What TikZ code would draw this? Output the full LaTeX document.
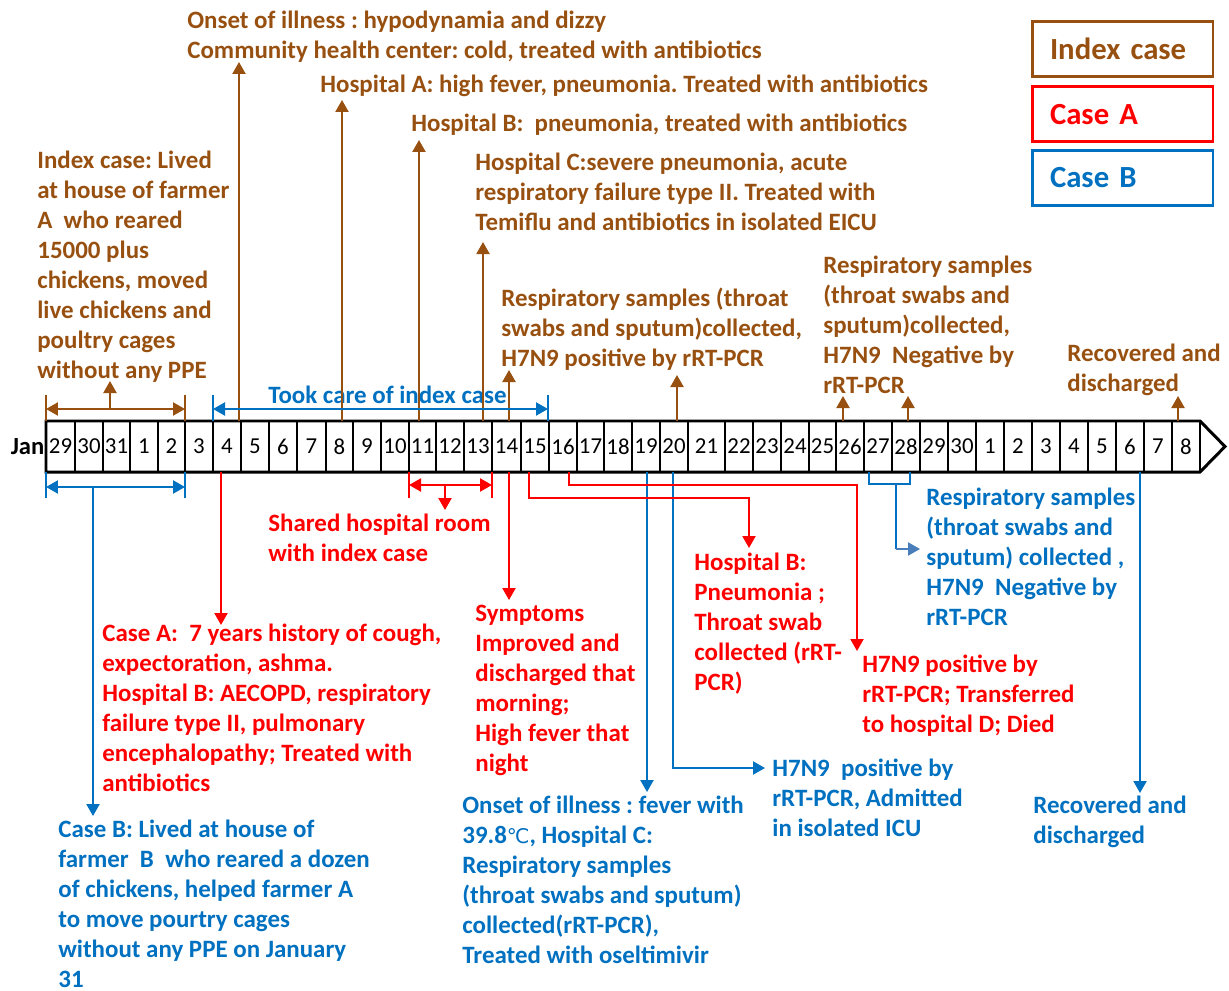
\documentclass[tikz,border=0pt]{standalone}
\usepackage{fontspec}
\setmainfont{Carlito}
\newfontfamily\djv{DejaVu Sans}
\usetikzlibrary{arrows.meta}
\frenchspacing
\definecolor{brn}{RGB}{152,80,16}
\definecolor{rd}{RGB}{255,0,0}
\definecolor{bl}{RGB}{0,112,192}
\definecolor{bltwo}{RGB}{74,126,187}
\tikzset{
  txt/.style={anchor=north west, inner sep=0pt, align=left, font=\fontsize{14.2}{17.07}\selectfont\bfseries},
  con/.style={line width=1.2pt},
  arr/.style={con, -{Triangle[length=0.24cm,width=0.26cm]}},
  darr/.style={con, {Triangle[length=0.24cm,width=0.26cm]}-{Triangle[length=0.24cm,width=0.26cm]}},
  day/.style={font=\fontsize{13}{15}\selectfont, inner sep=0pt},
  legend/.style={draw, line width=1.7pt, minimum width=3.62cm, minimum height=1.1cm, inner xsep=0.36cm, text width=2.9cm, align=left, font=\fontsize{17.5}{20}\selectfont\bfseries},
}
\begin{document}
\begin{tikzpicture}[x=0.02cm, y=-0.02cm]
\useasboundingbox (0,0) rectangle (1229,990);

% ---------- timeline strip ----------
\draw[line width=1.7pt] (46,421) -- (1200,421) -- (1225,446.5) -- (1200,472) -- (46,472) -- cycle;
\foreach \l/\r/\t [count=\i] in {46/75/29, 75/103/30, 103/130/31, 130/158/1, 158/185/2, 185/213/3, 213/241/4, 241/269/5, 269/297/6, 297/326/7, 326/353/8, 353/381/9, 381/409/10, 409/436/11, 436/464/12, 464/492/13, 492/521/14, 521/549/15, 549/577/16, 577/604/17, 604/632/18, 632/660/19, 660/688/20, 688/725/21, 725/753/22, 753/781/23, 781/809/24, 809/836/25, 836/864/26, 864/892/27, 892/920/28, 920/948/29, 948/976/30, 976/1004/1, 1004/1032/2, 1032/1060/3, 1060/1088/4, 1088/1116/5, 1116/1144/6, 1144/1172/7, 1172/1200/8}{
  \draw[line width=1.3pt] (\r,421) -- (\r,472);
  \node[day] (d\i) at ({(\l+\r)/2},446.5) {\t};
}
\node[anchor=east, inner sep=0.5pt, font=\fontsize{14}{15}\selectfont\bfseries] (jan) at (45.5,447) {Jan};

% ---------- legend ----------
\node[legend, brn] (lg1) at (1122.5,49.2) {Index case};
\node[legend, rd] (lg2) at (1122.5,114.2) {Case A};
\node[legend, bl] (lg3) at (1122.5,178) {Case B};

% ---------- index case texts (brown) ----------
\node[txt,brn] (onset) at (187,7) {\strut Onset of illness : hypodynamia and dizzy\\Community health center: cold, treated with antibiotics};
\node[txt,brn] (hospA) at (320,71) {\strut Hospital A: high fever, pneumonia. Treated with antibiotics};
\node[txt,brn] (hospB) at (411,110) {\strut Hospital B:\ \ pneumonia, treated with antibiotics};
\node[txt,brn] (hospC) at (475,149) {\strut Hospital C:severe pneumonia, acute\\respiratory failure type II. Treated with\\Temiflu and antibiotics in isolated EICU};
\node[txt,brn] (idx) at (37,147.5) {\strut Index case: Lived\\at house of farmer\\A\ \ who reared\\15000 plus\\chickens, moved\\live chickens and\\poultry cages\\without any PPE};
\node[txt,brn] (respone) at (501,285) {\strut Respiratory samples (throat\\swabs and sputum)collected,\\H7N9 positive by rRT-PCR};
\node[txt,brn] (resptwo) at (823,252) {\strut Respiratory samples\\(throat swabs and\\sputum)collected,\\H7N9\ \ Negative by\\rRT-PCR};
\node[txt,brn] (recovI) at (1067,340) {\strut Recovered and\\discharged};

% ---------- case A texts (red) ----------
\node[txt,rd] (shared) at (268,510) {\strut Shared hospital room\\with index case};
\node[txt,rd] (caseA) at (102,620) {\strut Case A:\ \ 7 years history of cough,\\expectoration, ashma.\\Hospital B: AECOPD, respiratory\\failure type II, pulmonary\\encephalopathy; Treated with\\antibiotics};
\node[txt,rd] (sympt) at (475,600) {\strut Symptoms\\Improved and\\discharged that\\morning;\\High fever that\\night};
\node[txt,rd] (hospBA) at (694,549) {\strut Hospital B:\\Pneumonia ;\\Throat swab\\collected (rRT-\\PCR)};
\node[txt,rd] (died) at (862,651) {\strut H7N9 positive by\\rRT-PCR; Transferred\\to hospital D; Died};

% ---------- case B texts (blue) ----------
\node[txt,bl] (took) at (268,382) {\strut Took care of index case};
\node[txt,bl] (caseB) at (58,816) {\strut Case B: Lived at house of\\farmer\ \ B\ \ who reared a dozen\\of chickens, helped farmer A\\to move pourtry cages\\without any PPE on January\\31};
\node[txt,bl] (onsetB) at (462,792) {\strut Onset of illness : fever with\\39.8{\djv\mdseries\fontsize{11.5}{14}\selectfont ℃}, Hospital C:\\Respiratory samples\\(throat swabs and sputum)\\collected(rRT-PCR),\\Treated with oseltimivir};
\node[txt,bl] (posB) at (772,755) {\strut H7N9\ \ positive by\\rRT-PCR, Admitted\\in isolated ICU};
\node[txt,bl] (respB) at (926,484) {\strut Respiratory samples\\(throat swabs and\\sputum) collected ,\\H7N9\ \ Negative by\\rRT-PCR};
\node[txt,bl] (recovB) at (1033,792) {\strut Recovered and\\discharged};

% ---------- coordinates ----------
% brown
\coordinate (iL) at (46,409); \coordinate (iR) at (185,409);
\coordinate (iLt) at (46,395); \coordinate (iLb) at (46,421);
\coordinate (iRt) at (185,395); \coordinate (iRb) at (185,421);
\coordinate (iM) at (110,409); \coordinate (iMe) at (110,381);
\coordinate (b4s) at (239,421); \coordinate (b4e) at (239,62);
\coordinate (b8s) at (342,421); \coordinate (b8e) at (342,100);
\coordinate (b11s) at (419,421); \coordinate (b11e) at (419,140);
\coordinate (b13s) at (483,421); \coordinate (b13e) at (483,242);
\coordinate (b14s) at (509,421); \coordinate (b14e) at (509,370);
\coordinate (b20s) at (677,421); \coordinate (b20e) at (677,375);
\coordinate (b26s) at (843,421); \coordinate (b26e) at (843,396);
\coordinate (b28s) at (908,421); \coordinate (b28e) at (908,396);
\coordinate (b8fs) at (1178,421); \coordinate (b8fe) at (1178,396);
% blue
\coordinate (tL) at (213,409); \coordinate (tR) at (548,409);
\coordinate (tLt) at (213,395); \coordinate (tLb) at (213,421);
\coordinate (tRt) at (548,395); \coordinate (tRb) at (548,421);
\coordinate (cL) at (46,487); \coordinate (cR) at (185,487);
\coordinate (cLt) at (46,472); \coordinate (cLb) at (46,498);
\coordinate (cRt) at (185,472); \coordinate (cRb) at (185,498);
\coordinate (cM) at (93,487); \coordinate (cMe) at (93,816);
\coordinate (o19s) at (647,472); \coordinate (o19e) at (647,792);
\coordinate (o20s) at (673,472); \coordinate (o20c) at (673,768); \coordinate (o20e) at (765,768);
\coordinate (k27) at (869,472); \coordinate (k27b) at (869,484);
\coordinate (k28) at (910,472); \coordinate (k28b) at (910,484);
\coordinate (kM) at (896,484); \coordinate (kMc) at (896,549); \coordinate (kMe) at (920,549);
\coordinate (r6s) at (1140,472); \coordinate (r6e) at (1140,793);
% red
\coordinate (a4s) at (221,472); \coordinate (a4e) at (221,625);
\coordinate (sL) at (409,485); \coordinate (sR) at (492,485);
\coordinate (sLt) at (409,472); \coordinate (sLb) at (409,498);
\coordinate (sRt) at (492,472); \coordinate (sRb) at (492,498);
\coordinate (sM) at (445,485); \coordinate (sMe) at (445,510);
\coordinate (a14s) at (509,472); \coordinate (a14e) at (509,600);
\coordinate (a15s) at (529,472); \coordinate (a15c) at (529,498); \coordinate (a15d) at (749,498); \coordinate (a15e) at (749,548);
\coordinate (a16s) at (569,472); \coordinate (a16c) at (569,485); \coordinate (a16d) at (857,485); \coordinate (a16e) at (857,651);

% ---------- connectors ----------
\begin{scope}[brn]
\draw[con] (iLt) -- (iLb); \draw[con] (iRt) -- (iRb);
\draw[darr] (iL) -- (iR);
\draw[arr] (iM) -- (iMe);
\draw[arr] (b4s) -- (b4e);
\draw[arr] (b8s) -- (b8e);
\draw[arr] (b11s) -- (b11e);
\draw[arr] (b13s) -- (b13e);
\draw[arr] (b14s) -- (b14e);
\draw[arr] (b20s) -- (b20e);
\draw[arr] (b26s) -- (b26e);
\draw[arr] (b28s) -- (b28e);
\draw[arr] (b8fs) -- (b8fe);
\end{scope}
\begin{scope}[bl]
\draw[con] (tLt) -- (tLb); \draw[con] (tRt) -- (tRb);
\draw[darr] (tL) -- (tR);
\draw[con] (cLt) -- (cLb); \draw[con] (cRt) -- (cRb);
\draw[darr] (cL) -- (cR);
\draw[arr] (cM) -- (cMe);
\draw[arr] (o19s) -- (o19e);
\draw[arr] (o20s) -- (o20c) -- (o20e);
\draw[con] (k27) -- (k27b) -- (k28b) -- (k28);
\draw[con] (kM) -- (kMc);
\draw[arr, bltwo] (kMc) -- (kMe);
\draw[arr] (r6s) -- (r6e);
\end{scope}
\begin{scope}[rd]
\draw[arr] (a4s) -- (a4e);
\draw[con] (sLt) -- (sLb); \draw[con] (sRt) -- (sRb);
\draw[darr] (sL) -- (sR);
\draw[arr] (sM) -- (sMe);
\draw[arr] (a14s) -- (a14e);
\draw[arr] (a15s) -- (a15c) -- (a15d) -- (a15e);
\draw[arr] (a16s) -- (a16c) -- (a16d) -- (a16e);
\end{scope}
\end{tikzpicture}
\end{document}
